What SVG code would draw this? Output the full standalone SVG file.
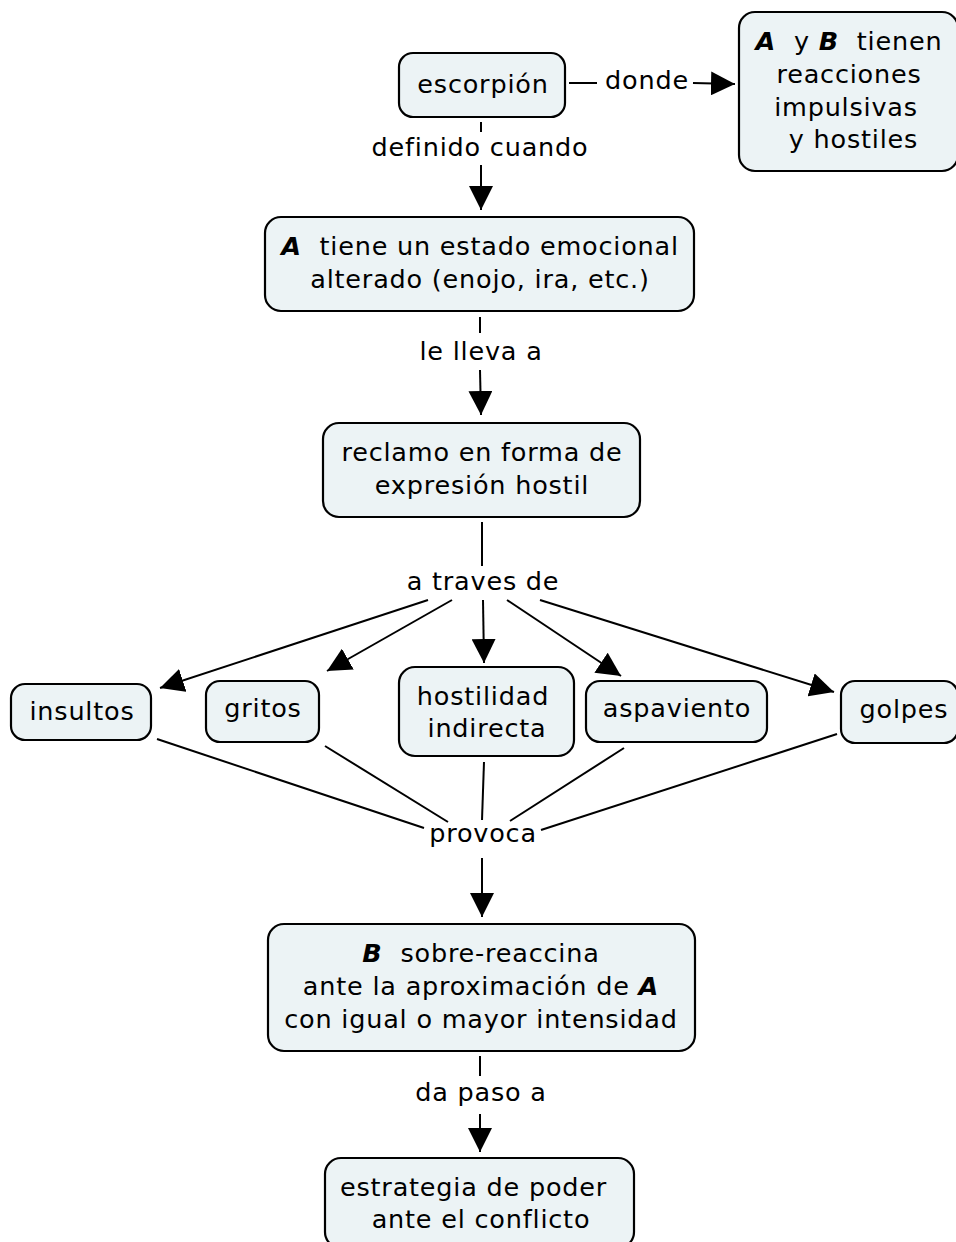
<svg xmlns="http://www.w3.org/2000/svg" width="956" height="1242" viewBox="0 0 956 1242">
  <style>
    .node rect { fill: #ecf3f5; stroke: #000; stroke-width: 2.2; }
    text { font-family: "DejaVu Sans", Verdana, sans-serif; font-size: 25.5px; letter-spacing: 0.8px; fill: #000; text-anchor: middle; }
    .v { font-weight: bold; font-style: italic; }
    #connectors line { stroke: #000; stroke-width: 2; }
  </style>
  <defs>
    <marker id="arrow" viewBox="0 0 24 24" refX="24" refY="12" markerWidth="24" markerHeight="24" markerUnits="userSpaceOnUse" orient="auto">
      <path d="M0,0 L24,12 L0,24 Z" fill="#000"/>
    </marker>
  </defs>

  <rect width="956" height="1242" fill="#fff"/>

  <g id="connectors">
    <!-- escorpión -> A tiene -->
    <line x1="481" y1="122" x2="481" y2="132"/>
    <line x1="481" y1="165" x2="481" y2="210" marker-end="url(#arrow)"/>
    <text x="480" y="156">definido cuando</text>
    <!-- escorpión -> A y B -->
    <line x1="569" y1="83" x2="597" y2="83"/>
    <line x1="693" y1="83" x2="735" y2="84" marker-end="url(#arrow)"/>
    <text x="647" y="89">donde</text>
    <!-- A tiene -> reclamo -->
    <line x1="480" y1="317" x2="480" y2="333"/>
    <line x1="480" y1="370" x2="481" y2="415" marker-end="url(#arrow)"/>
    <text x="481" y="360">le lleva a</text>
    <!-- reclamo -> a traves de -->
    <line x1="482" y1="522" x2="482" y2="566"/>
    <text x="483" y="590">a traves de</text>
    <line x1="428" y1="600" x2="160" y2="688" marker-end="url(#arrow)"/>
    <line x1="452" y1="600" x2="327" y2="671" marker-end="url(#arrow)"/>
    <line x1="483" y1="600" x2="484" y2="663" marker-end="url(#arrow)"/>
    <line x1="507" y1="600" x2="621" y2="676" marker-end="url(#arrow)"/>
    <line x1="540" y1="600" x2="834" y2="692" marker-end="url(#arrow)"/>
    <!-- nodes -> provoca -->
    <line x1="157" y1="739" x2="424" y2="828"/>
    <line x1="325" y1="746" x2="448" y2="822"/>
    <line x1="484" y1="762" x2="482" y2="820"/>
    <line x1="624" y1="748" x2="510" y2="821"/>
    <line x1="837" y1="734" x2="541" y2="830"/>
    <text x="483" y="842">provoca</text>
    <line x1="482" y1="858" x2="482" y2="917" marker-end="url(#arrow)"/>
    <!-- B sobre-reaccina -> estrategia -->
    <line x1="480" y1="1056" x2="480" y2="1076"/>
    <line x1="480" y1="1114" x2="480" y2="1152" marker-end="url(#arrow)"/>
    <text x="481" y="1101">da paso a</text>
  </g>

  <g id="n-escorpion" class="node">
    <rect x="399" y="53" width="166" height="64" rx="14"/>
    <text x="483" y="93">escorpión</text>
  </g>

  <g id="n-reacciones" class="node">
    <rect x="739" y="12" width="219" height="159" rx="16"/>
    <text x="849" y="50"><tspan class="v">A</tspan>&#160; y <tspan class="v">B</tspan>&#160; tienen</text>
    <text x="849" y="83">reacciones</text>
    <text x="846" y="116">impulsivas</text>
    <text x="849" y="148">&#160;y hostiles</text>
  </g>

  <g id="n-estado" class="node">
    <rect x="265" y="217" width="429" height="94" rx="16"/>
    <text x="480" y="255"><tspan class="v">A</tspan>&#160; tiene un estado emocional</text>
    <text x="480" y="288">alterado (enojo, ira, etc.)</text>
  </g>

  <g id="n-reclamo" class="node">
    <rect x="323" y="423" width="317" height="94" rx="16"/>
    <text x="482" y="461">reclamo en forma de</text>
    <text x="482" y="494">expresión hostil</text>
  </g>

  <g id="n-insultos" class="node">
    <rect x="11" y="684" width="140" height="56" rx="14"/>
    <text x="82" y="720">insultos</text>
  </g>

  <g id="n-gritos" class="node">
    <rect x="206" y="681" width="113" height="61" rx="14"/>
    <text x="263" y="717">gritos</text>
  </g>

  <g id="n-hostilidad" class="node">
    <rect x="399" y="667" width="175" height="89" rx="16"/>
    <text x="483" y="705">hostilidad</text>
    <text x="487" y="737">indirecta</text>
  </g>

  <g id="n-aspaviento" class="node">
    <rect x="586" y="681" width="181" height="61" rx="14"/>
    <text x="677" y="717">aspaviento</text>
  </g>

  <g id="n-golpes" class="node">
    <rect x="841" y="681" width="117" height="62" rx="14"/>
    <text x="904" y="718">golpes</text>
  </g>

  <g id="n-sobre" class="node">
    <rect x="268" y="924" width="427" height="127" rx="16"/>
    <text x="481" y="962"><tspan class="v">B</tspan>&#160; sobre-reaccina</text>
    <text x="481" y="995">ante la aproximación de <tspan class="v">A</tspan></text>
    <text x="481" y="1028">con igual o mayor intensidad</text>
  </g>

  <g id="n-estrategia" class="node">
    <rect x="325" y="1158" width="309" height="90" rx="16"/>
    <text x="478" y="1196">estrategia de poder&#160;</text>
    <text x="481" y="1228">ante el conflicto</text>
  </g>
</svg>
